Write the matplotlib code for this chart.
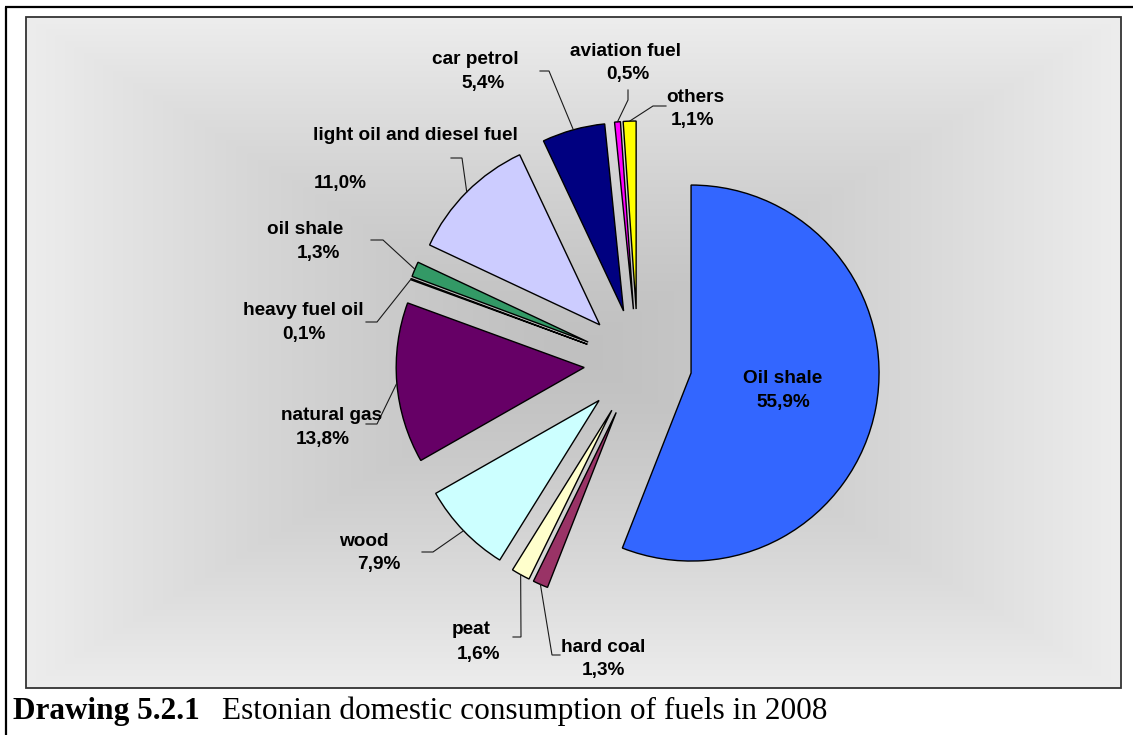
import numpy as np
import matplotlib
matplotlib.use("Agg")
import matplotlib.pyplot as plt
from matplotlib.patches import Rectangle

# ---- data -------------------------------------------------------------
fuels = ["Oil shale", "hard coal", "peat", "wood", "natural gas",
         "heavy fuel oil", "oil shale", "light oil and diesel fuel",
         "car petrol", "aviation fuel", "others"]
shares = [55.9, 1.3, 1.6, 7.9, 13.8, 0.1, 1.3, 11.0, 5.4, 0.5, 1.1]
colors = ["#3366FF", "#993366", "#FFFFCC", "#CCFFFF", "#660066",
          "#FF8080", "#339966", "#CCCCFF", "#000080", "#FF00FF", "#FFFF00"]
caption_bold = "Drawing 5.2.1"
caption_text = "Estonian domestic consumption of fuels in 2008"

# ---- canvas (pixel coordinates, y measured from the top) -------------
W, H = 1133, 735
fig = plt.figure(figsize=(W / 100, H / 100), dpi=100)
ax = fig.add_axes([0, 0, 1, 1])


def Y(y):
    return H - y


# label layout: name position, value position, leader elbow, leader end
layout = {
    0: dict(name=(783, 378), value=(783, 402), lead=None),
    1: dict(name=(603, 647), value=(603, 670), lead=[(552, 655), (560, 655)]),
    2: dict(name=(471, 630), value=(479, 654), lead=[(521, 637), (513, 637)]),
    3: dict(name=(364, 542), value=(379, 564), lead=[(433, 552), (422, 552)]),
    4: dict(name=(332, 415), value=(323, 439), lead=[(377, 424), (366, 424)]),
    5: dict(name=(303, 310), value=(304, 334), lead=[(377, 322), (366, 322)]),
    6: dict(name=(305, 229), value=(318, 253), lead=[(383, 240), (371, 240)]),
    7: dict(name=(415, 135), value=(340, 183), lead=[(462, 158), (451, 158)]),
    8: dict(name=(475, 59), value=(483, 83), lead=[(549, 71), (540, 71)]),
    9: dict(name=(625, 51), value=(628, 74), lead=[(628, 100), (628, 90)]),
    10: dict(name=(695, 97), value=(693, 120), lead=[(653, 106), (666, 106)]),
}

# ---- plot-area background: rectangular gradient, dark centre -------------
bx0, bx1, by_top, by_bot = 26, 1121, 17, 688
gx = np.linspace(bx0, bx1, 600)
gy = np.linspace(by_top, by_bot, 400)
GX, GY = np.meshgrid(gx, gy)
mx, my = (bx0 + bx1) / 2, (by_top + by_bot) / 2
t = np.maximum(np.abs(GX - mx) / ((bx1 - bx0) / 2),
               np.abs(GY - my) / ((by_bot - by_top) / 2))
shade = (192 + 45 * np.clip(t, 0, 1) ** 1.3) / 255.0
rgb = np.dstack([shade, shade, shade])
ax.imshow(rgb, extent=(bx0, bx1, Y(by_bot), Y(by_top)), origin="upper",
          interpolation="bilinear", zorder=0, aspect="auto")
ax.add_patch(Rectangle((bx0, Y(by_bot)), bx1 - bx0, by_bot - by_top,
                       fill=False, edgecolor="#333333", linewidth=1.3, zorder=1))

# ---- exploded pie ---------------------------------------------------------
cx, cy = 638, Y(363)
R = 188
offset = 54
wedges, _ = ax.pie(shares, colors=colors, startangle=90, counterclock=False,
                   radius=R, center=(cx, cy), explode=[offset] * len(shares),
                   wedgeprops=dict(edgecolor="black", linewidth=1.0),
                   frame=True)
for w in wedges:
    w.set_zorder(2)

font = dict(family=["Liberation Sans", "DejaVu Sans"], fontweight="bold",
            fontsize=13.7, color="black", ha="center", va="center", zorder=5)

for i, (name, val) in enumerate(zip(fuels, shares)):
    lay = layout[i]
    ax.text(lay["name"][0], Y(lay["name"][1]), name, **font)
    ax.text(lay["value"][0], Y(lay["value"][1]),
            f"{val:.1f}".replace(".", ",") + "%", **font)
    if lay["lead"] is not None:
        w = wedges[i]
        mid = np.deg2rad((w.theta1 + w.theta2) / 2)
        ax0 = w.center[0] + w.r * np.cos(mid)
        ay0 = w.center[1] + w.r * np.sin(mid)
        xs = [ax0] + [p[0] for p in lay["lead"]]
        ys = [ay0] + [Y(p[1]) for p in lay["lead"]]
        ax.plot(xs, ys, color="#1a1a1a", linewidth=0.8, zorder=3,
                solid_joinstyle="miter")

# ---- outer frame and caption ---------------------------------------------
ax.plot([5, W], [Y(7), Y(7)], color="black", linewidth=1.6, zorder=6,
        solid_capstyle="butt")
ax.plot([6, 6], [Y(7), 0], color="black", linewidth=1.6, zorder=6,
        solid_capstyle="butt")

cap_font = dict(family=["Liberation Serif", "DejaVu Serif"], fontsize=22.5,
                color="black", va="baseline", ha="left", zorder=6)
ax.text(13, Y(719), caption_bold, fontweight="bold", **cap_font)
ax.text(222, Y(719), caption_text, **cap_font)

ax.set_xlim(0, W)
ax.set_ylim(0, H)
ax.set_aspect("auto")
ax.axis("off")

fig.savefig("out.png", dpi=100, facecolor="white")
